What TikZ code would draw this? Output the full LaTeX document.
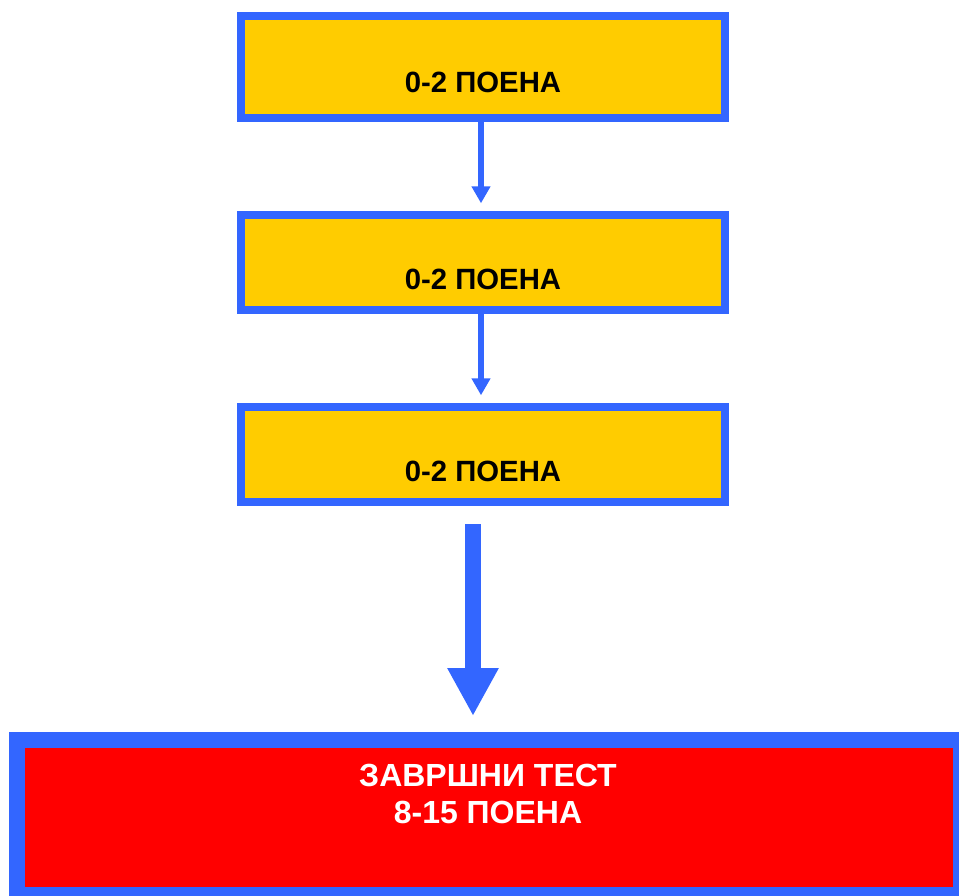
\documentclass[tikz,border=0pt]{standalone}
\usepackage{fontspec}
\setmainfont{Liberation Sans}
\usetikzlibrary{arrows.meta,calc}
\definecolor{bblue}{HTML}{3366FF}
\definecolor{byellow}{HTML}{FFCC00}
\definecolor{bred}{HTML}{FF0000}
\tikzset{
  stepbox/.style={draw=bblue, fill=byellow, line width=8pt, rectangle, inner sep=0pt, minimum width=484pt},
  finalbox/.style={draw=bblue, fill=bred, line width=16pt, rectangle, inner sep=0pt, minimum width=944.3pt, minimum height=155.6pt},
  lbl/.style={inner sep=0pt, font=\fontsize{29.3}{33}\selectfont\bfseries, text=black},
  finallbl/.style={inner sep=0pt, align=center, font=\fontsize{32}{37.5}\selectfont\bfseries, text=white},
  smallarr/.style={draw=bblue, line width=6.5pt, -{Triangle[width=18pt,length=17pt]}, bblue},
  bigarr/.style={draw=bblue, line width=16pt, -{Triangle[width=48pt,length=48pt]}, bblue},
}
\begin{document}
\begin{tikzpicture}[x=1pt,y=-1pt]
\useasboundingbox (0,0) rectangle (959,895);
\clip (0,0) rectangle (959,895);
\node[stepbox, minimum height=102.3pt] (b1) at (483,66.85) {};
\node[stepbox, minimum height=95.3pt] (b2) at (483,262.35) {};
\node[stepbox, minimum height=95.6pt] (b3) at (483,454.5) {};
\node[finalbox] (b4) at (489.15,817.5) {};
\node[lbl] (t1) at (483,82) {0-2 ПОЕНА};
\node[lbl] (t2) at (483,279) {0-2 ПОЕНА};
\node[lbl] (t3) at (483,471) {0-2 ПОЕНА};
\node[finallbl] (t4) at (488,794) {ЗАВРШНИ ТЕСТ\\8-15 ПОЕНА};
\coordinate (s1) at ($(b1.south)+(-2,0)$);
\coordinate (e1) at ($(s1 |- b2.north)+(0,-7.4)$);
\coordinate (s2) at ($(b2.south)+(-2,0)$);
\coordinate (e2) at ($(s2 |- b3.north)+(0,-7.4)$);
\draw[smallarr] (s1) -- (e1);
\draw[smallarr] (s2) -- (e2);
\coordinate (s3) at ($(b3.south)+(-10,18)$);
\coordinate (e3) at ($(s3 |- b4.north)+(0,-15.7)$);
\draw[bigarr] (s3) -- (e3);
\end{tikzpicture}
\end{document}
